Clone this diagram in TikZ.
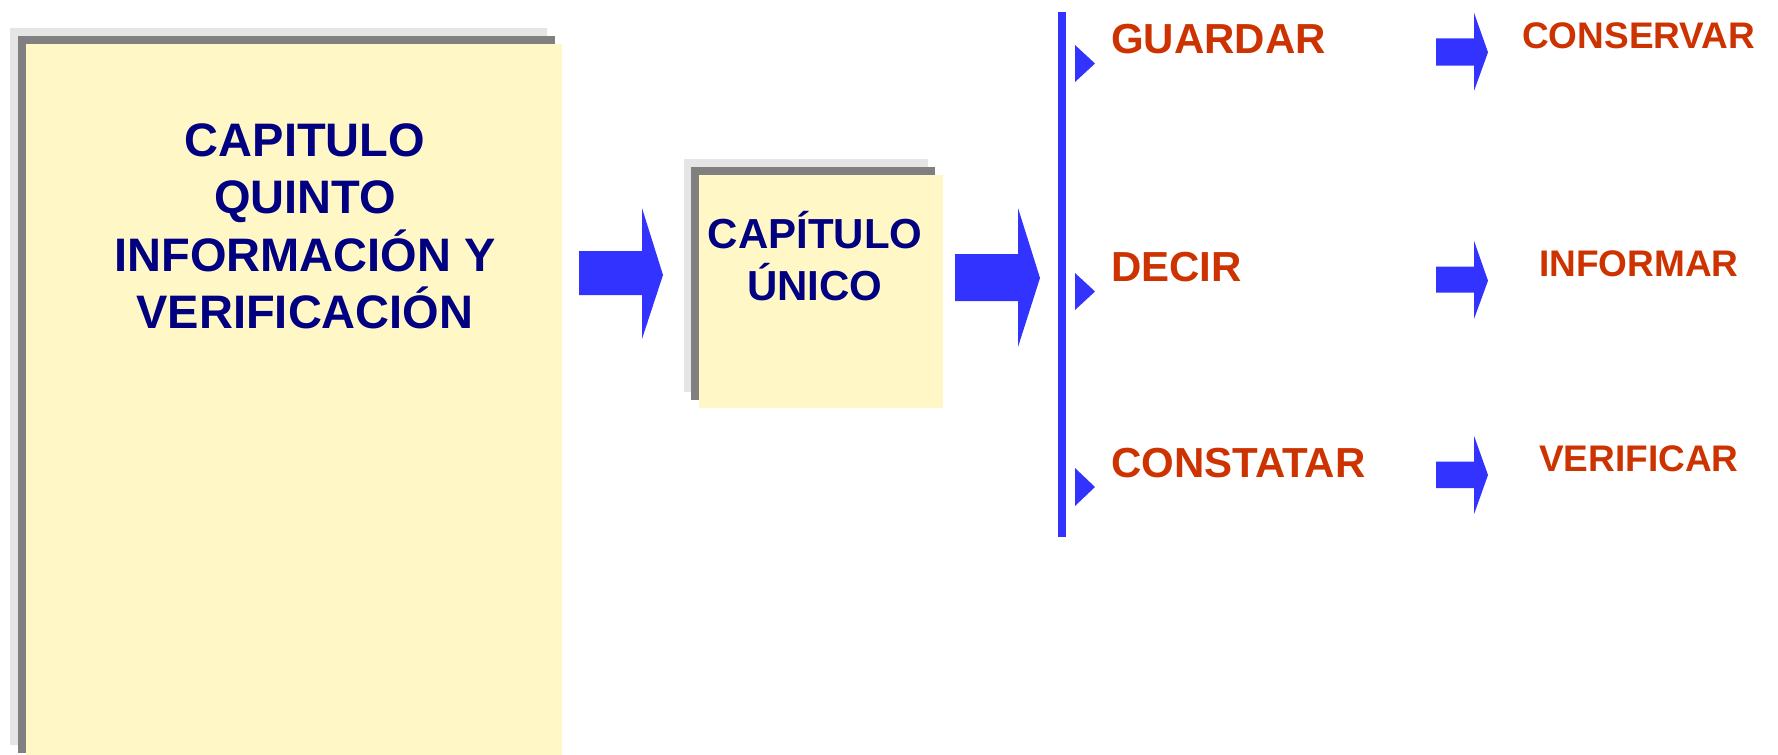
\documentclass[tikz,border=0pt]{standalone}
\usepackage{fontspec}
\setmainfont{Liberation Sans}
\definecolor{navytext}{RGB}{0,0,128}
\definecolor{rust}{RGB}{204,51,0}
\definecolor{arrowblue}{RGB}{51,51,255}
\definecolor{paper}{RGB}{255,248,198}
\definecolor{shadelight}{RGB}{229,229,229}
\definecolor{shadedark}{RGB}{128,128,128}

\begin{document}
\begin{tikzpicture}[x=1pt,y=-1pt,
  layerlight/.style={fill=shadelight},
  layerdark/.style={fill=shadedark},
  layerpaper/.style={fill=paper},
  bigtitle/.style={inner sep=0pt, text=navytext, align=center,
    font=\bfseries\fontsize{47}{57.5}\selectfont},
  smalltitle/.style={inner sep=0pt, text=navytext, align=center,
    font=\bfseries\fontsize{42}{51.4}\selectfont},
  verbword/.style={inner sep=0pt, anchor=base west, text=rust,
    font=\bfseries\fontsize{42}{50}\selectfont},
  synword/.style={inner sep=0pt, anchor=base west, text=rust,
    font=\bfseries\fontsize{37}{44}\selectfont},
  blockarr/.style={fill=arrowblue},
  bullet/.style={fill=arrowblue}]

\useasboundingbox (0,0) rectangle (1778,755);

% stacked sheets behind the chapter box
\fill[layerlight] (10,28) rectangle (547,745);
\fill[layerdark]  (18,36) rectangle (555,753);
\fill[layerpaper] (26,44) rectangle (562,755);
\node[bigtitle] (chapter) at (305,226.2)
  {CAPITULO\\QUINTO\\INFORMACIÓN Y\\VERIFICACIÓN};

% stacked sheets behind the single-chapter box
\fill[layerlight] (684,159) rectangle (928,392);
\fill[layerdark]  (691,167) rectangle (935,400);
\fill[layerpaper] (699,175) rectangle (943,408);
\node[smalltitle] (single) at (815,256) {CAPÍTULO\\ÚNICO};

% block arrows between the boxes
\fill[blockarr] (579,251) -- (642,251) -- (642,208) -- (663,275)
  -- (642,339) -- (642,295) -- (579,295) -- cycle;
\fill[blockarr] (955,254) -- (1018,254) -- (1018,208) -- (1040,278)
  -- (1018,347) -- (1018,301) -- (955,301) -- cycle;

% bracket bar
\fill[arrowblue] (1058,12) rectangle (1066,537);

% bullets
\fill[bullet] (1075,45) -- (1095,63.5) -- (1075,82) -- cycle;
\fill[bullet] (1075,273) -- (1095,291.5) -- (1075,310) -- cycle;
\fill[bullet] (1075,468) -- (1095,487) -- (1075,506) -- cycle;

% verbs
\node[verbword] (guardar)   at (1111,53.8)  {GUARDAR};
\node[verbword] (decir)     at (1111,281.7) {DECIR};
\node[verbword] (constatar) at (1111,477.3) {CONSTATAR};

% small block arrows
\fill[blockarr] (1436,38.3) -- (1474,38.3) -- (1474,12.7) -- (1488,52.3)
  -- (1474,91) -- (1474,65.7) -- (1436,65.7) -- cycle;
\fill[blockarr] (1436,266.7) -- (1474,266.7) -- (1474,240.7) -- (1488,280.7)
  -- (1474,319) -- (1474,292.7) -- (1436,292.7) -- cycle;
\fill[blockarr] (1436,461.7) -- (1474,461.7) -- (1474,435.7) -- (1488,475)
  -- (1474,514.3) -- (1474,488) -- (1436,488) -- cycle;

% meanings
\node[synword] (conservar) at (1522,48.3)  {CONSERVAR};
\node[synword] (informar)  at (1539,276)   {INFORMAR};
\node[synword] (verificar) at (1539,471.7) {VERIFICAR};

\end{tikzpicture}
\end{document}
